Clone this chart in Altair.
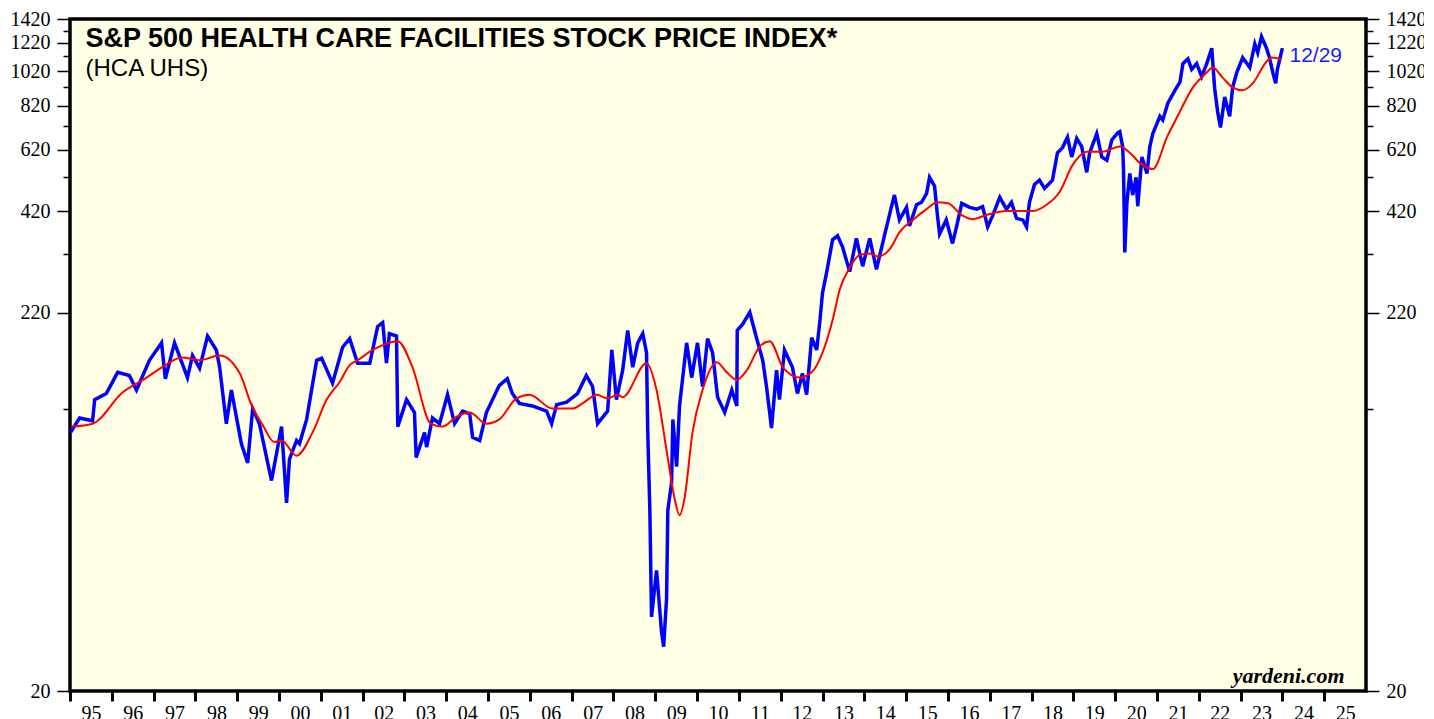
import altair as alt
import pandas as pd

# ---- data (decimal year, index level) ----
blue_t = [1995.01, 1995.23, 1995.54, 1995.59, 1995.87, 1996.14, 1996.42, 1996.59, 1996.90, 1997.19,
          1997.28, 1997.50, 1997.81, 1997.93, 1998.10, 1998.29, 1998.50, 1998.58, 1998.74, 1998.86,
          1999.10, 1999.25, 1999.37, 1999.53, 1999.82, 2000.06, 2000.18, 2000.25, 2000.42, 2000.49,
          2000.66, 2000.90, 2001.02, 2001.28, 2001.52, 2001.69, 2001.88, 2002.17, 2002.36, 2002.48,
          2002.57, 2002.64, 2002.81, 2002.84, 2003.05, 2003.24, 2003.28, 2003.48, 2003.53, 2003.67,
          2003.84, 2004.03, 2004.20, 2004.39, 2004.56, 2004.63, 2004.80, 2004.96, 2005.27, 2005.46,
          2005.58, 2005.75, 2006.06, 2006.40, 2006.52, 2006.64, 2006.88, 2007.14, 2007.35, 2007.50,
          2007.62, 2007.86, 2007.96, 2008.07, 2008.22, 2008.34, 2008.46, 2008.58, 2008.70, 2008.79,
          2008.82, 2008.87, 2008.91, 2009.03, 2009.15, 2009.20, 2009.27, 2009.30, 2009.39, 2009.42,
          2009.51, 2009.58, 2009.75, 2009.87, 2010.01, 2010.13, 2010.25, 2010.37, 2010.49, 2010.66,
          2010.83, 2010.95, 2010.96, 2011.09, 2011.26, 2011.42, 2011.57, 2011.66, 2011.78, 2011.90,
          2011.97, 2012.09, 2012.28, 2012.40, 2012.52, 2012.62, 2012.74, 2012.86, 2012.93, 2013.00,
          2013.10, 2013.24, 2013.36, 2013.48, 2013.65, 2013.81, 2013.96, 2014.13, 2014.29, 2014.48,
          2014.65, 2014.72, 2014.84, 2015.01, 2015.08, 2015.25, 2015.37, 2015.49, 2015.56, 2015.68,
          2015.75, 2015.80, 2015.96, 2016.11, 2016.21, 2016.33, 2016.52, 2016.69, 2016.83, 2016.95,
          2017.07, 2017.24, 2017.40, 2017.52, 2017.64, 2017.79, 2017.88, 2017.95, 2018.07, 2018.19,
          2018.31, 2018.50, 2018.62, 2018.74, 2018.86, 2018.96, 2019.08, 2019.20, 2019.32, 2019.39,
          2019.56, 2019.68, 2019.80, 2019.92, 2020.06, 2020.11, 2020.18, 2020.20, 2020.23, 2020.28,
          2020.35, 2020.42, 2020.50, 2020.54, 2020.64, 2020.76, 2020.83, 2020.90, 2021.07, 2021.14,
          2021.26, 2021.43, 2021.55, 2021.62, 2021.74, 2021.83, 2021.95, 2022.07, 2022.19, 2022.31,
          2022.38, 2022.45, 2022.52, 2022.62, 2022.74, 2022.81, 2022.91, 2023.05, 2023.22, 2023.34,
          2023.41, 2023.50, 2023.62, 2023.69, 2023.77, 2023.84, 2023.88, 2024.00]
blue_v = [103, 113, 111, 127, 132, 151, 148, 135, 163, 182,
          145, 182, 146, 168, 155, 190, 174, 156, 109, 135,
          96, 85, 120, 109, 76, 107, 66, 87, 98, 96,
          112, 163, 165, 141, 177, 187, 160, 160, 202, 207,
          160, 193, 190, 107, 127, 117, 88, 103, 94, 113,
          109, 131, 109, 118, 116, 100, 98, 117, 139, 145,
          132, 124, 122, 118, 109, 123, 125, 132, 148, 138,
          109, 118, 174, 127, 153, 197, 156, 182, 193, 171,
          103, 63, 32, 43, 29, 26.5, 36, 63, 75, 112,
          83, 122, 182, 146, 182, 138, 187, 171, 129, 117,
          135, 122, 197, 205, 221, 188, 163, 138, 106, 153,
          127, 174, 156, 132, 150, 131, 188, 174, 205, 250,
          285, 350, 359, 334, 286, 353, 296, 353, 290, 359,
          432, 465, 397, 430, 382, 437, 444, 470, 520, 492,
          408, 363, 397, 342, 382, 441, 430, 425, 432, 380,
          408, 458, 425, 444, 401, 397, 380, 444, 497, 511,
          485, 511, 608, 628, 671, 592, 666, 632, 537, 608,
          686, 592, 580, 659, 690, 695, 632, 545, 323, 441,
          533, 465, 520, 433, 592, 533, 632, 686, 766, 748,
          833, 903, 951, 1070, 1103, 1032, 1070, 985, 1070, 1180,
          914, 790, 714, 866, 766, 920, 1012, 1112, 1044, 1213,
          1147, 1270, 1180, 1112, 1012, 944, 1032, 1180]

red_t = [1995.04, 1995.54, 1996.26, 1996.83, 1997.21, 1997.67, 1998.10, 1998.58, 1999.06, 1999.35,
         1999.61, 1999.89, 2000.06, 2000.42, 2000.80, 2001.14, 2001.45, 2001.69, 2001.88, 2002.24,
         2002.41, 2002.84, 2003.19, 2003.63, 2003.91, 2004.25, 2004.56, 2004.96, 2005.27, 2005.68,
         2005.99, 2006.54, 2007.02, 2007.26, 2007.60, 2007.86, 2008.10, 2008.22, 2008.79, 2009.03,
         2009.27, 2009.46, 2009.58, 2009.70, 2009.89, 2010.13, 2010.47, 2010.71, 2010.95, 2011.19,
         2011.50, 2011.74, 2012.05, 2012.45, 2012.74, 2013.00, 2013.24, 2013.41, 2013.65, 2013.89,
         2014.13, 2014.32, 2014.61, 2014.84, 2015.16, 2015.49, 2015.75, 2016.00, 2016.35, 2016.59,
         2016.93, 2017.40, 2018.03, 2018.36, 2018.67, 2018.98, 2019.32, 2019.70, 2020.11, 2020.35,
         2020.59, 2020.90, 2021.24, 2021.55, 2021.86, 2022.19, 2022.33, 2022.57, 2022.81, 2023.05,
         2023.29, 2023.62, 2023.74, 2023.98]
red_v = [107, 109, 133, 146, 156, 166, 163, 168, 150, 122,
         108, 97, 98, 89, 103, 127, 142, 158, 163, 174,
         178, 184, 156, 109, 107, 114, 117, 109, 112, 128,
         131, 120, 120, 124, 131, 128, 131, 129, 160, 135,
         92, 68, 61, 68, 103, 135, 161, 151, 144, 153,
         178, 184, 156, 146, 151, 171, 210, 255, 293, 318,
         321, 315, 330, 367, 397, 425, 444, 441, 408, 399,
         410, 420, 420, 437, 474, 562, 612, 612, 632, 608,
         570, 548, 671, 790, 920, 1012, 1044, 979, 920, 903,
         944, 1083, 1112, 1098]

year_ticks = list(range(1995, 2026))
y_ticks = list(range(20, 1421, 100))

title_text = ["S&P 500 HEALTH CARE FACILITIES STOCK PRICE INDEX*"]
subtitle_text = ["(HCA UHS)"]
date_text = ["12/29"]
source_text = ["yardeni.com"]

blue_df = pd.DataFrame({"t": blue_t, "v": blue_v})
red_df = pd.DataFrame({"t": red_t, "v": red_v})

SERIF = "Liberation Serif"
SANS = "Liberation Sans"

xscale = alt.Scale(domain=[1995, 2026], nice=False, zero=False)
yscale = alt.Scale(type="log", domain=[20, 1420], nice=False)

xaxis = alt.Axis(values=year_ticks, title=None, grid=False, domain=False,
                 labelExpr="substring(toString(datum.value), 2, 4)",
                 labelOffset=21, tickSize=10, tickWidth=3, tickColor="black",
                 labelFont=SERIF, labelFontSize=20, labelColor="black",
                 labelPadding=2, labelFlush=False, labelOverlap=False)

major = "datum.value % 200 == 20"

def yaxis(orient):
    return alt.Axis(values=y_ticks, orient=orient, title=None, grid=False, domain=False,
                    format="d",
                    labelExpr="datum.value % 200 == 20 ? datum.label : ''",
                    tickSize=alt.condition(major, alt.value(13), alt.value(7)),
                    tickWidth=1.5, tickColor="black",
                    labelFont=SERIF, labelFontSize=20, labelColor="black",
                    labelPadding=7, labelOverlap=False, labelFlush=False)

blue = alt.Chart(blue_df).mark_line(color="#0000FF", strokeWidth=3.5, clip=True).encode(
    x=alt.X("t:Q", scale=xscale, axis=xaxis),
    y=alt.Y("v:Q", scale=yscale, axis=yaxis("left")),
)
red = alt.Chart(red_df).mark_line(color="#FF0000", strokeWidth=2, interpolate="monotone", clip=True).encode(
    x=alt.X("t:Q", scale=xscale, axis=xaxis),
    y=alt.Y("v:Q", scale=yscale, axis=yaxis("right")),
)

title = alt.Chart(pd.DataFrame({"s": title_text})).mark_text(
    align="left", baseline="alphabetic", font=SANS, fontWeight="bold", fontSize=27, color="black"
).encode(x=alt.value(15.5), y=alt.value(28), text="s:N")
subtitle = alt.Chart(pd.DataFrame({"s": subtitle_text})).mark_text(
    align="left", baseline="alphabetic", font=SANS, fontSize=24, color="black"
).encode(x=alt.value(15.5), y=alt.value(56.5), text="s:N")
date_lbl = alt.Chart(pd.DataFrame({"s": date_text})).mark_text(
    align="left", baseline="alphabetic", font=SANS, fontSize=21, color="#1a1aff"
).encode(x=alt.value(1219.5), y=alt.value(43), text="s:N")
source = alt.Chart(pd.DataFrame({"s": source_text})).mark_text(
    align="right", baseline="alphabetic", font=SERIF, fontWeight="bold", fontStyle="italic",
    fontSize=22, color="black"
).encode(x=alt.value(1274.5), y=alt.value(664), text="s:N")

chart = alt.layer(blue, red, title, subtitle, date_lbl, source).resolve_axis(
    y="independent"
).properties(
    width=1296, height=672,
    autosize=alt.AutoSizeParams(type="none"),
    padding={"left": 62, "top": 11, "right": 58, "bottom": 28},
    background="white",
).configure_view(
    fill="#FFFFE6", stroke="black", strokeWidth=3.5
)

chart.save("out.html", embed_options={"renderer": "svg", "actions": False})
